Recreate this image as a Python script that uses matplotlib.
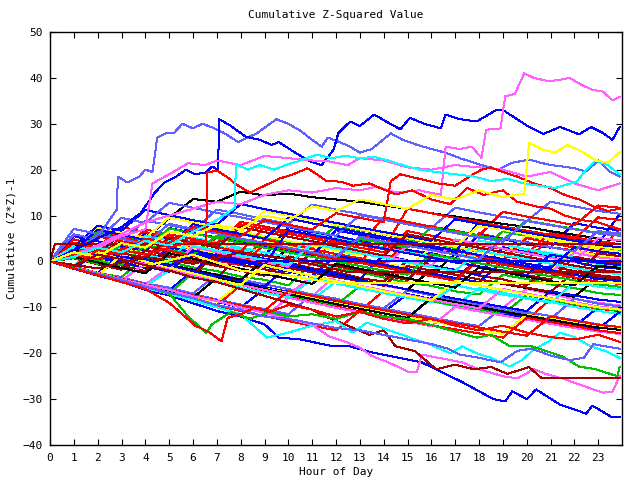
import matplotlib
matplotlib.use("Agg")
import matplotlib.pyplot as plt

plt.rcParams['font.family'] = ['DejaVu Sans Mono']

# hourly sample times shared by the plain traces
hours = list(range(24)) + [23.9]

# gnuplot-like line colours, cycled over the plain traces
palette = ['#ff0000', '#00c000', '#0000ff', '#ff60ff', '#00ffff',
           '#a00000', '#ffff00', '#0000ff', '#6060ff', '#ff0000', '#000000']

# ---- traces (hourly) ----
int01 = [0, -1.3, 2.6, 1.5, 0.6, -0.6, 4.3, 3.5, 2.2, 1.4, 0.5, -0.7, 5.2, 4.0, 3.1, 2.3, 1.2, 0.4, 6.1, 5.0, 4.2, 3.1, 2.4, 1.5, 1.0]
int02 = [0, -1.1, -2.5, -3.4, 1.0, -0.1, -1.3, -2.1, -3.3, -4.0, -5.2, -0.4, -1.6, -2.3, -3.5, -4.6, -5.3, -6.5, -7.2, -2.9, -3.8, -5.0, -5.8, -6.9, -7.3]
int03 = [0, 2.7, 1.6, 0.8, 6.2, 5.0, 4.3, 3.1, 2.4, 1.2, 7.5, 6.3, 5.6, 4.4, 3.7, 2.5, 1.8, 0.6, 5.8, 4.9, 3.7, 3.0, 8.4, 7.3, 6.8]
int04 = [0, -1.4, -2.6, -3.9, -5.0, -1.2, -2.5, -3.4, -4.7, -5.5, -6.8, -7.6, -3.0, -4.1, -5.3, -6.1, -7.3, -8.2, -9.3, -10.1, -6.0, -7.1, -8.2, -9.0, -9.6]
int05 = [0, 3.5, 2.4, 1.6, 0.3, -0.5, 4.6, 3.4, 2.6, 1.3, 0.6, -0.7, -1.4, 3.9, 2.7, 1.9, 0.7, 0.0, -1.2, -2.0, 2.5, 1.3, 0.6, -0.6, -1.0]
int06 = [0, -1.5, -2.8, 0.9, -0.3, -1.6, -2.4, -3.7, 1.8, 0.6, -0.2, -1.5, -2.3, -3.6, -4.4, 0.2, -1.0, -1.8, -3.1, -3.9, -5.2, -1.0, -2.1, -3.0, -3.5]
int07 = [0, 1.6, 0.4, -0.5, 3.8, 2.6, 1.9, 0.7, -0.2, 4.6, 3.5, 2.7, 1.5, 0.8, -0.5, -1.2, 2.9, 1.8, 1.0, -0.2, -1.0, -2.2, 2.4, 1.3, 0.7]
int08 = [0, -1.4, 1.9, 0.8, -0.3, -1.3, -2.5, 2.7, 1.6, 0.5, -0.4, -1.7, -2.6, -3.8, 1.4, 0.2, -0.8, -1.9, -2.9, 3.1, 2.0, 0.9, -0.1, -1.2, -1.6]
int09 = [0, -1.2, -2.6, -3.5, -4.8, -5.7, -7.0, -2.8, -3.9, -5.0, -6.0, -7.2, -8.1, -9.3, -10.2, -6.3, -7.4, -8.5, -9.4, -10.6, -11.4, -12.6, -8.1, -9.2, -9.8]
int10 = [0, 4.8, 3.7, 2.9, 1.6, 0.9, -0.4, 5.5, 4.4, 3.6, 2.3, 1.6, 0.3, -0.4, 6.3, 5.1, 4.4, 3.1, 2.4, 1.2, 0.4, 4.9, 3.8, 3.0, 2.4]
int11 = [0, 1.2, 0.0, 4.4, 3.3, 2.5, 1.2, 0.5, -0.8, -1.5, 2.9, 1.8, 0.9, -0.3, -1.1, -2.3, -3.0, 1.6, 0.5, -0.4, -1.6, -2.4, -3.6, -4.4, -4.9]
int12 = [0, -1.5, -2.9, -4.4, -5.7, -7.1, -8.3, -9.6, -5.1, -6.4, -7.5, -8.7, -9.8, -10.9, -6.4, -7.6, -8.6, -9.7, -10.7, -11.8, -12.7, -8.3, -9.4, -10.3, -10.8]
int13 = [0, 2.3, 6.4, 5.5, 4.2, 3.5, 8.1, 7.0, 6.2, 5.0, 4.3, 3.1, 7.9, 6.8, 6.0, 4.8, 4.1, 2.9, 2.2, 6.6, 5.5, 4.7, 3.5, 2.8, 2.2]
int14 = [0, -1.3, -2.7, -3.8, -5.2, -6.3, -2.0, -3.3, -4.3, -5.6, -6.6, -7.9, -8.8, -10.0, -11.0, -7.1, -8.2, -9.3, -10.3, -11.4, -12.3, -13.4, -14.2, -10.0, -10.8]
int15 = [0, 0.9, -0.4, 3.7, 2.4, 1.7, 0.4, -0.4, 4.9, 3.7, 3.0, 1.8, 1.0, -0.2, -1.0, 3.5, 2.4, 1.5, 0.4, -0.5, -1.6, -2.5, 1.9, 0.9, 0.4]
int16 = [0, -1.4, -2.8, -4.1, -0.3, -1.6, -2.7, -3.9, -5.0, -6.1, -7.2, -8.3, -4.4, -5.5, -6.6, -7.6, -8.7, -9.7, -5.8, -6.8, -7.9, -8.8, -9.9, -10.8, -11.4]
int17 = [0, 1.4, 0.2, -0.9, -2.1, 2.6, 1.5, 0.4, -0.7, -1.7, -2.8, 2.1, 1.0, 0.0, -1.0, -2.0, -3.0, -3.9, 0.8, -0.2, -1.2, -2.2, -3.1, 1.7, 1.2]
int18 = [0, 2.8, 1.7, 0.6, 4.9, 3.8, 2.8, 1.7, 6.6, 5.5, 4.5, 3.4, 2.4, 1.4, 6.3, 5.2, 4.2, 3.2, 2.2, 1.2, 5.7, 4.7, 3.7, 2.7, 2.1]
int19 = [0, -1.4, -2.7, -4.0, -5.3, -6.5, -7.7, -8.8, -10.0, -6.0, -7.1, -8.2, -9.3, -10.3, -11.3, -12.3, -8.0, -9.1, -10.1, -11.0, -12.0, -12.9, -13.8, -14.7, -11.0]
int20 = [0, -1.2, -2.5, -3.7, -4.9, -6.0, -7.1, -8.3, -9.4, -10.4, -11.5, -7.2, -8.2, -9.3, -10.3, -11.2, -12.2, -13.2, -14.1, -10.0, -11.0, -11.9, -12.8, -13.7, -14.3]
int21 = [0, 1.8, 0.6, 5.3, 4.1, 3.2, 2.0, 1.1, 0.0, 4.8, 3.7, 2.7, 1.6, 0.7, -0.4, 4.3, 3.2, 2.2, 1.2, 0.2, 5.1, 4.0, 3.0, 2.1, 7.0]
int22 = [0, -1.3, -2.5, 1.6, 0.5, -0.7, -1.8, -2.9, -4.0, 0.3, -0.8, -1.9, -3.0, -4.0, -5.1, -6.1, -1.8, -2.9, -3.9, -4.9, -5.8, -6.8, -7.7, -3.4, -4.0]
int23 = [0, 4.1, 3.0, 7.5, 6.4, 5.4, 4.3, 3.3, 8.1, 7.0, 6.0, 5.0, 4.0, 3.0, 2.0, 6.6, 5.6, 4.6, 3.6, 2.7, 1.7, 6.2, 5.3, 4.3, 3.8]
int24 = [0, -1.5, -2.9, -4.3, -5.6, -6.9, -2.5, -3.8, -5.0, -6.2, -7.3, -8.4, -9.5, -5.4, -6.5, -7.5, -8.6, -9.6, -10.5, -11.5, -7.3, -8.3, -9.3, -10.2, -10.7]
int25 = [0, 2.0, 0.8, -0.3, -1.4, 3.1, 2.0, 0.9, -0.1, -1.1, -2.2, -3.2, 1.3, 0.3, -0.7, -1.7, -2.6, -3.6, -4.5, 0.0, -1.0, -1.9, -2.9, -3.8, -4.3]
int26 = [0, -1.5, -3.0, -4.4, -5.8, -7.1, -8.4, -9.6, -10.8, -12.0, -7.9, -9.0, -10.1, -11.1, -12.2, -13.1, -14.1, -9.9, -10.9, -11.8, -12.7, -13.6, -14.5, -15.3, -15.8]
int27 = [0, -1.0, 3.6, 2.5, 1.4, 0.3, 5.2, 4.1, 3.0, 2.0, 1.0, 6.0, 5.0, 4.0, 3.0, 2.0, 1.1, 0.1, 4.6, 3.7, 2.7, 1.8, 0.8, -0.1, -0.6]
int28 = [0, 2.4, 1.3, 0.2, -0.8, -1.9, -2.9, 1.7, 0.6, -0.4, -1.4, -2.4, -3.4, -4.3, -5.3, -1.0, -2.0, -2.9, -3.9, -4.8, -5.7, -6.6, -2.4, -3.3, -3.8]
int29 = [0, -1.4, -2.7, -4.0, -5.3, -6.5, -7.7, -8.8, -4.7, -5.9, -6.9, -8.0, -9.1, -10.1, -11.1, -12.1, -13.0, -14.0, -14.9, -15.8, -11.6, -12.5, -13.4, -14.3, -14.8]
int30 = [0, 5.5, 4.4, 3.3, 2.3, 7.3, 6.2, 5.2, 4.2, 3.2, 2.2, 1.2, 6.8, 5.8, 4.9, 3.9, 3.0, 2.0, 8.6, 7.6, 6.7, 5.7, 4.8, 3.9, 10.3]
int31 = [0, 1.3, 5.7, 4.6, 8.9, 7.9, 6.8, 11.3, 10.3, 9.2, 8.2, 12.4, 11.3, 10.3, 9.3, 8.3, 7.3, 11.7, 10.7, 9.7, 8.8, 13.0, 12.0, 11.0, 10.4]
int32 = [0, -1.2, 2.9, 1.8, 0.8, 5.1, 4.1, 3.1, 2.1, 7.5, 6.5, 5.5, 4.5, 3.5, 9.6, 8.6, 7.6, 6.7, 5.7, 10.8, 9.8, 8.9, 7.9, 12.2, 11.7]
int33 = [0, 2.6, 1.5, 6.2, 5.1, 9.4, 13.6, 13.0, 15.2, 14.4, 14.8, 14.0, 13.5, 13.0, 12.2, 11.5, 10.5, 9.8, 9.0, 8.2, 7.5, 6.6, 5.8, 5.0, 4.5]
int34 = [0, -1.3, 3.4, 2.3, 7.0, 5.9, 4.9, 3.9, 8.6, 7.6, 6.6, 5.6, 4.6, 3.6, 2.7, 11.5, 10.5, 9.5, 8.6, 7.6, 6.7, 5.8, 4.9, 9.6, 9.0]
int35 = [0, 1.2, 0.2, -0.8, 3.5, 2.5, 1.5, 5.6, 4.6, 3.6, 2.6, 1.7, 0.8, 4.9, 4.0, 3.0, 7.4, 6.5, 5.6, 4.7, 8.9, 8.0, 7.1, 6.2, 5.7]
int36 = [0, -1.4, -2.8, 1.4, 0.2, -1.0, -2.1, -3.3, -4.4, -5.5, -0.9, -2.0, -3.1, -4.1, -5.1, -6.1, -7.1, -8.1, -9.0, -9.9, -10.8, -6.5, -7.4, -8.3, -8.8]
int37 = [0, -1.5, 1.8, 0.6, -0.6, -1.8, 3.2, 2.0, 0.9, -0.1, -1.2, 4.3, 3.2, 2.1, 1.1, 0.1, -0.9, 4.8, 3.8, 2.8, 1.8, 0.8, -0.1, 5.1, 4.6]
int38 = [0, -1.4, -2.8, -4.1, -5.4, -2.0, -3.3, -4.5, -5.7, -6.8, -7.9, -3.7, -4.8, -5.9, -6.9, -7.9, -8.9, -5.2, -6.2, -7.2, -8.1, -9.0, -4.6, -5.5, -6.0]
int39 = [0, 0.7, -0.6, -1.8, 2.4, 1.2, 0.1, -1.0, -2.0, -3.1, 1.1, 0.0, -1.0, -2.0, -3.0, -4.0, 0.9, -0.1, -1.1, -2.0, -3.0, -3.9, 1.0, 0.1, -0.4]
int40 = [0, 3.0, 7.3, 6.2, 5.1, 9.6, 8.5, 7.5, 6.4, 11.0, 10.0, 9.0, 8.0, 7.0, 6.0, 5.1, 4.1, 3.2, 7.8, 6.9, 5.9, 5.0, 4.1, 3.2, 2.7]
int41 = [0, 3.2, 7.8, 6.7, 11.2, 10.1, 9.0, 8.0, 12.5, 11.4, 10.4, 9.4, 8.4, 7.4, 6.4, 5.5, 4.5, 9.2, 8.2, 7.3, 6.3, 5.4, 4.5, 3.6, 3.1]
int42 = [0, 5.9, 4.8, 9.5, 8.4, 12.8, 11.7, 10.6, 9.6, 8.6, 7.6, 6.6, 5.6, 10.1, 9.1, 8.1, 7.1, 6.2, 5.2, 4.3, 8.8, 7.9, 7.0, 6.1, 5.6]
int43 = [0, 1.0, 5.5, 4.4, 3.3, 2.3, 1.2, 0.2, -0.8, 3.7, 2.7, 1.7, 0.7, -0.3, -1.3, -2.3, -3.2, -4.2, 0.3, -0.7, -1.6, -2.6, -3.5, -4.4, -4.9]
int44 = [0, -1.4, -2.8, -4.1, -5.4, -6.7, -7.9, -3.6, -4.8, -6.0, -7.1, -8.2, -9.3, -10.3, -11.3, -12.3, -7.9, -8.9, -9.9, -10.9, -11.8, -12.7, -13.6, -14.4, -14.9]
int45 = [0, -1.5, -3.0, -4.4, -5.8, -7.1, -8.4, -9.6, -10.8, -11.9, -13.0, -14.0, -15.0, -10.8, -11.9, -12.9, -13.9, -14.8, -15.7, -16.6, -12.3, -13.2, -14.1, -15.0, -15.6]
int46 = [0, 0.8, -0.5, 3.9, 2.8, 7.2, 6.1, 5.1, 4.0, 3.0, 2.0, 1.0, 0.0, -1.0, -2.0, -2.9, 1.6, 0.6, -0.4, -1.3, -2.3, -3.2, -4.1, -5.0, -5.5]
int47 = [0, 2.2, 1.1, 0.0, -1.1, -2.2, 2.4, 1.3, 0.3, -0.8, 6.8, 5.8, 4.8, 3.8, 2.8, 1.8, 0.8, -0.2, -1.1, -2.1, -3.0, 1.5, 0.6, -0.3, -0.8]
int48 = [0, -1.5, -2.9, -4.2, -0.4, -1.7, -2.9, -4.0, -5.1, -6.2, -7.3, -3.1, -4.2, -5.3, -6.3, -7.3, -8.3, -9.3, -10.2, -6.0, -7.0, -8.0, -8.9, -9.8, -10.3]
int49 = [0, 3.3, 2.2, 1.1, 5.6, 4.5, 3.4, 2.4, 1.3, 0.3, -0.7, 3.8, 2.8, 1.8, 0.8, -0.2, -1.2, -2.1, 2.4, 1.4, 0.5, -0.5, -1.4, -2.3, -2.8]
int50 = [0, -1.4, 2.9, 1.8, 0.6, 5.2, 4.1, 3.0, 7.5, 6.4, 5.4, 4.4, 3.3, 2.3, 1.3, 5.9, 4.9, 3.9, 3.0, 2.0, 1.0, 0.1, -0.9, -1.8, -2.3]
int51 = [0, -1.5, -3.0, 1.4, 0.0, -1.3, -2.6, -3.9, -5.1, -0.8, -2.0, -3.2, -4.3, -5.4, -6.5, -7.5, -8.5, -4.2, -5.2, -6.2, -7.2, -8.1, -9.1, -10.0, -10.5]
int52 = [0, 2.5, 6.9, 5.8, 4.7, 3.6, 8.1, 7.0, 6.0, 4.9, 9.4, 8.3, 7.3, 6.3, 5.3, 4.3, 3.4, 2.4, 1.4, 0.5, -0.5, -1.4, 3.1, 2.2, 1.7]
int53 = [0, 7.1, 6.0, 4.9, 3.8, 8.2, 7.1, 6.1, 5.0, 4.0, 3.0, 2.0, 1.0, 5.4, 4.4, 3.4, 2.5, 1.5, 0.5, 5.0, 4.1, 3.1, 2.2, 6.6, 6.1]
int54 = [0, -1.2, -2.5, -3.8, -5.0, -6.2, -7.4, -8.5, -9.6, -10.7, -6.4, -7.5, -8.5, -9.6, -10.6, -11.6, -12.6, -13.5, -14.4, -15.3, -16.2, -12.0, -12.9, -13.8, -14.3]
int55 = [0, 1.0, -0.2, -1.4, -2.6, 1.8, 0.6, -0.5, -1.6, -2.7, -3.8, -4.9, -0.5, -1.6, -2.6, -3.7, -4.7, -5.7, -1.3, -2.3, -3.3, -4.3, -5.2, -0.9, -1.4]

hourly_traces = [int01, int02, int03, int04, int05, int06, int07, int08, int09, int10,
                 int11, int12, int13, int14, int15, int16, int17, int18, int19, int20,
                 int21, int22, int23, int24, int25, int26, int27, int28, int29, int30,
                 int31, int32, int33, int34, int35, int36, int37, int38, int39, int40,
                 int41, int42, int43, int44, int45, int46, int47, int48, int49, int50,
                 int51, int52, int53, int54, int55]

# ---- outlying traces, read at their own times ----
top_slate_x = [0, 0.5, 1, 1.6, 2.2, 2.8, 2.85, 3.25, 3.75, 4.0, 4.3, 4.5, 4.9, 5.2, 5.55, 6.0, 6.4, 6.8, 7.3, 7.9, 8.3, 8.7, 9.1, 9.5, 10.0, 10.5, 11.0, 11.4, 11.65, 12.15, 12.6, 13.0, 13.5, 14.3, 14.8, 15.4, 16.0, 16.6, 17.2, 17.8, 18.3, 18.8, 19.4, 20.1, 20.6, 21.0, 21.5, 22.0, 22.5, 23.0, 23.5, 23.9]
top_slate_y = [0, 1.2, 2.5, 4.0, 6.8, 11.3, 18.5, 17.2, 18.5, 20.0, 19.5, 27.0, 28.0, 28.0, 30.0, 29.0, 30.0, 29.2, 28.0, 26.0, 27.0, 28.0, 29.5, 31.0, 30.0, 28.5, 26.5, 25.0, 27.0, 26.0, 25.0, 23.7, 24.5, 27.9, 26.5, 25.4, 24.5, 23.7, 22.5, 21.5, 20.7, 20.0, 21.5, 22.2, 21.5, 21.0, 20.7, 20.3, 19.6, 22.0, 19.5, 18.5]

top_blue_x = [0, 1, 2, 3, 3.8, 4.4, 4.8, 5.3, 5.7, 6.1, 6.55, 6.8, 7.05, 7.1, 7.6, 8.2, 8.8, 9.3, 9.6, 10.2, 10.9, 11.4, 11.9, 12.1, 12.6, 13.0, 13.6, 14.1, 14.7, 15.1, 15.7, 16.4, 16.6, 17.2, 17.9, 18.4, 18.75, 19.0, 19.6, 20.1, 20.7, 21.4, 22.2, 22.7, 23.2, 23.6, 23.9]
top_blue_y = [0, 2.5, 5.0, 7.5, 10.5, 15.0, 17.2, 18.5, 20.0, 19.0, 19.4, 20.7, 20.0, 31.0, 29.5, 27.2, 26.5, 25.4, 26.0, 24.0, 21.8, 21.0, 24.4, 28.0, 30.5, 29.5, 32.0, 30.5, 28.8, 31.3, 30.0, 29.0, 32.0, 31.0, 30.5, 32.0, 33.1, 33.0, 31.0, 29.3, 27.8, 29.3, 27.7, 29.3, 28.0, 26.5, 29.3]

top_mag_x = [0, 1, 2, 3, 4, 5, 6, 7, 8, 9, 10, 11, 12, 13, 13.7, 14.5, 15.5, 16.4, 16.6, 17.2, 17.7, 18.1, 18.3, 18.9, 19.1, 19.5, 19.9, 20.3, 20.9, 21.3, 21.8, 22.3, 22.7, 23.2, 23.6, 23.9]
top_mag_y = [0, 1.5, 3.5, 6.0, 8.5, 10.0, 11.5, 13.0, 12.5, 14.5, 15.5, 15.0, 16.0, 15.5, 16.3, 15.0, 15.5, 14.5, 25.0, 24.5, 25.0, 22.6, 28.7, 29.0, 36.0, 36.5, 41.0, 40.0, 39.3, 39.5, 40.0, 38.5, 37.5, 37.0, 35.1, 35.8]

mag2_x = [0, 1, 2, 3, 4, 4.3, 5, 5.8, 6.5, 7, 8, 9, 10, 11, 11.7, 12.5, 13, 14, 15, 16, 17, 18, 19, 20, 21, 22, 23, 23.9]
mag2_y = [0, 1.2, 3.0, 5.5, 7.0, 17.0, 19.0, 21.4, 21.0, 22.0, 21.0, 23.0, 22.5, 22.0, 21.8, 21.0, 22.5, 22.0, 20.5, 20.0, 21.0, 20.5, 20.0, 18.5, 19.5, 17.0, 15.5, 17.0]

red_top_x = [0, 1, 2, 3, 4, 5, 6, 6.55, 6.6, 7.0, 7.4, 7.9, 8.4, 9.0, 9.6, 10.2, 10.8, 11.2, 11.6, 12.2, 12.7, 13.4, 14.5, 15.2, 16.0, 16.8, 17.5, 18.2, 19.0, 19.6, 20.4, 21.0, 21.6, 22.3, 23.0, 23.9]
red_top_y = [0, 1.5, 0.5, 2.5, 1.5, 3.0, 4.5, 4.0, 19.4, 19.8, 18.5, 16.5, 15.0, 16.5, 18.0, 19.0, 20.3, 19.0, 17.5, 17.4, 16.5, 17.0, 14.6, 15.5, 13.5, 12.5, 16.0, 14.5, 15.5, 13.0, 12.0, 11.5, 10.0, 9.0, 8.5, 7.0]

red_mid_x = [0, 1, 2, 3, 4, 5, 6, 7, 8, 9, 10, 11, 12, 13, 14, 14.3, 14.7, 15.5, 16.3, 17.0, 17.6, 18.1, 18.5, 19.0, 19.6, 20.3, 21.0, 21.6, 22.2, 22.8, 23.4, 23.9]
red_mid_y = [0, -1.2, 2.5, 1.5, 5.0, 4.0, 7.5, 6.5, 5.5, 9.0, 8.0, 7.0, 10.5, 9.5, 8.5, 17.5, 19.0, 18.0, 17.0, 16.5, 18.5, 20.0, 20.5, 19.5, 18.5, 17.0, 16.0, 14.5, 13.5, 12.0, 11.0, 11.5]

cyan_top_x = [0, 1, 2, 3, 4, 5, 6, 7, 7.75, 7.8, 8.3, 8.8, 9.4, 9.9, 10.5, 11.2, 11.8, 12.4, 13.0, 13.6, 14.2, 14.8, 15.5, 16.2, 17.0, 17.8, 18.5, 19.2, 19.9, 20.5, 21.2, 22.1, 22.5, 22.9, 23.4, 23.9]
cyan_top_y = [0, 1.0, 3.0, 2.0, 4.5, 3.5, 6.5, 9.0, 11.7, 21.2, 20.0, 21.0, 20.0, 21.0, 22.0, 23.3, 22.5, 23.0, 22.5, 22.8, 22.0, 21.0, 20.0, 19.5, 19.0, 18.5, 17.5, 18.0, 17.0, 16.5, 16.0, 17.4, 20.0, 22.0, 21.0, 19.0]

yel_top_x = [0, 1, 2, 3, 4, 5, 6, 7, 8, 9, 10, 11, 12, 13, 14, 15, 16, 17, 18, 19, 19.9, 20.1, 20.6, 21.2, 21.7, 22.3, 22.9, 23.4, 23.9]
yel_top_y = [0, 2.0, 1.0, 4.0, 3.0, 6.5, 5.5, 8.0, 7.0, 10.0, 9.0, 12.0, 11.0, 13.5, 12.5, 11.5, 14.5, 13.5, 15.5, 14.0, 14.8, 25.9, 24.5, 23.7, 25.4, 24.0, 22.0, 21.5, 23.8]

bot_blue_x = [0, 1, 2, 3, 4, 5, 6, 7, 8, 9, 9.6, 10.5, 11.9, 12.5, 13.5, 15.6, 17.3, 18.6, 19.1, 19.4, 20.0, 20.4, 21.4, 22.2, 22.5, 22.75, 23.6, 23.9]
bot_blue_y = [0, -1.6, -3.1, -4.4, -6.2, -7.4, -9.1, -10.8, -12.0, -13.7, -16.6, -17.0, -18.5, -18.4, -19.8, -22.0, -26.3, -30.0, -30.5, -28.3, -30.0, -27.9, -31.2, -32.6, -33.2, -31.4, -34.0, -34.0]

bot_mag_x = [0, 1, 2, 3, 4, 5, 6, 7, 8, 9, 10, 11, 11.7, 12.4, 13.0, 13.5, 14.2, 15.1, 15.4, 15.6, 16.3, 17.3, 18.0, 19.0, 19.6, 20.3, 20.8, 21.5, 22.2, 23.2, 23.6, 23.9]
bot_mag_y = [0, -1.3, -2.5, -3.9, -5.1, -6.2, -7.6, -8.6, -10.0, -11.2, -12.5, -13.8, -16.3, -17.5, -18.8, -20.6, -22.0, -24.2, -24.0, -20.3, -21.0, -22.0, -23.5, -25.0, -25.5, -23.5, -24.5, -25.5, -26.8, -28.6, -28.4, -25.0]

dred_low_x = [0, 1, 2, 3, 4, 5, 6, 7, 8, 9, 10, 11, 11.7, 12.5, 13.4, 14.0, 14.5, 15.3, 16.2, 17.0, 17.8, 18.5, 19.2, 20.1, 20.6, 23.9]
dred_low_y = [0, -1.0, 1.5, 0.5, -0.8, -2.0, -3.5, -4.5, -6.0, -7.5, -9.0, -10.5, -12.3, -14.0, -16.0, -15.0, -18.5, -19.5, -23.5, -22.5, -23.5, -23.0, -24.5, -23.0, -25.3, -25.3]

cyan_low_x = [0, 1, 2, 3, 4, 5, 6, 7, 8, 9.1, 10, 11, 12, 12.7, 13.3, 14.5, 15.9, 16.8, 17.3, 17.9, 18.5, 19.3, 19.8, 20.3, 20.9, 21.4, 22.0, 22.7, 23.3, 23.9]
cyan_low_y = [0, -1.4, -2.9, -4.2, -5.8, -7.1, -8.5, -10.0, -11.5, -16.6, -15.5, -14.0, -13.0, -15.5, -13.3, -15.5, -18.0, -20.0, -18.5, -20.0, -21.0, -22.9, -21.5, -19.2, -17.5, -15.5, -16.5, -18.5, -19.5, -21.0]

green_low_x = [0, 1, 2, 3, 4, 5, 5.8, 6.55, 6.8, 7.6, 8.4, 9.2, 10, 11, 12, 13, 14, 15, 15.9, 16.8, 17.9, 18.5, 19.3, 20.2, 20.8, 21.5, 22.2, 22.9, 23.8, 23.9]
green_low_y = [0, -1.4, -2.7, -4.0, -5.5, -7.0, -12.0, -15.5, -13.7, -11.0, -12.5, -11.0, -12.0, -11.5, -12.5, -11.0, -12.0, -12.5, -13.7, -15.0, -16.6, -16.0, -18.5, -18.5, -19.5, -20.7, -22.9, -23.5, -25.0, -23.0]

slate_low_x = [0, 1, 2, 3, 4, 5, 6, 7, 8, 9, 10, 11, 12, 13, 14, 15, 16, 16.7, 17.2, 18, 18.9, 19.6, 20.2, 21.0, 21.8, 22.4, 22.8, 23.3, 23.9]
slate_low_y = [0, -1.5, -2.8, -4.0, -5.5, -6.8, -8.0, -9.5, -10.5, -12.0, -12.5, -13.5, -14.5, -15.0, -16.0, -17.0, -18.0, -19.0, -20.3, -21.0, -22.0, -19.5, -19.0, -20.5, -21.5, -21.0, -18.0, -18.5, -19.0]

red_low_x = [0, 1, 2, 3, 4, 5, 6.1, 6.7, 7.2, 7.45, 8.0, 8.6, 9.2, 10, 11, 12, 13, 14, 15, 16, 17, 18, 19, 20, 21, 22, 23, 23.9]
red_low_y = [0, -1.5, -3.0, -4.5, -6.0, -9.0, -14.0, -15.5, -17.4, -12.3, -11.5, -10.0, -11.0, -9.5, -10.5, -12.0, -11.0, -12.5, -13.5, -12.5, -14.0, -15.0, -14.0, -15.5, -16.5, -17.0, -16.0, -17.5]

# traces that stop changing (flat runs)
flat_dred_x = [0, 0.2, 23.9]
flat_dred_y = [0, 3.7, 3.7]
flat_blue_x = [0, 1, 2, 3, 4, 5, 6, 7, 8, 8.7, 23.9]
flat_blue_y = [0, -1.5, 2.0, 1.0, 0.5, -1.0, 1.5, 0.5, -0.5, 0.0, 0.0]
flat_dred2_x = [0, 2, 4, 6, 8, 10, 12.4, 23.9]
flat_dred2_y = [0, -1.5, 1.0, -0.5, 2.0, 0.5, -2.2, -2.2]
flat_yel_x = [0, 2, 4, 6, 8, 10, 11.7, 23.9]
flat_yel_y = [0, 2.0, -1.0, 1.5, -2.0, -3.0, -4.6, -4.6]

special = [
    (flat_dred_x, flat_dred_y, '#a00000'),
    (flat_blue_x, flat_blue_y, '#0000ff'),
    (flat_dred2_x, flat_dred2_y, '#a00000'),
    (flat_yel_x, flat_yel_y, '#ffff00'),
    (top_slate_x, top_slate_y, '#6060ff'),
    (top_blue_x, top_blue_y, '#0000ff'),
    (top_mag_x, top_mag_y, '#ff60ff'),
    (mag2_x, mag2_y, '#ff60ff'),
    (red_top_x, red_top_y, '#ff0000'),
    (red_mid_x, red_mid_y, '#ff0000'),
    (cyan_top_x, cyan_top_y, '#00ffff'),
    (yel_top_x, yel_top_y, '#ffff00'),
    (bot_blue_x, bot_blue_y, '#0000ff'),
    (bot_mag_x, bot_mag_y, '#ff60ff'),
    (dred_low_x, dred_low_y, '#a00000'),
    (cyan_low_x, cyan_low_y, '#00ffff'),
    (green_low_x, green_low_y, '#00c000'),
    (slate_low_x, slate_low_y, '#6060ff'),
    (red_low_x, red_low_y, '#ff0000'),
]

fig = plt.figure(figsize=(6.4, 4.8), dpi=100)
ax = fig.add_axes([50 / 640, 35 / 480, 572 / 640, 413 / 480])

for i, ys in enumerate(hourly_traces):
    ax.plot(hours, ys, color=palette[i % len(palette)], lw=0.72, antialiased=False)
for xs, ys, col in special:
    ax.plot(xs, ys, color=col, lw=0.72, antialiased=False)

ax.set_xlim(0, 24)
ax.set_ylim(-40, 50)
ax.set_xticks(range(24))
ax.set_yticks(range(-40, 51, 10))
ax.tick_params(direction='in', top=True, right=True, length=4.5, width=0.8,
               labelsize=8, pad=5)
ax.tick_params(axis='x', pad=6)
for sp in ax.spines.values():
    sp.set_linewidth(1.0)

fig.text(0.525, 1 - 15 / 480, 'Cumulative Z-Squared Value', ha='center', va='center', fontsize=8)
fig.text(0.525, 1 - 472 / 480, 'Hour of Day', ha='center', va='center', fontsize=8)
fig.text(12 / 640, 0.503, 'Cumulative (Z*Z)-1', ha='center', va='center',
         rotation=90, fontsize=8)

fig.savefig('out.png', dpi=100)
